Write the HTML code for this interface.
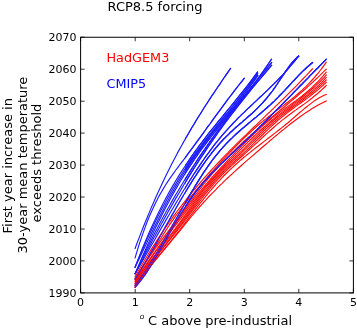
<!DOCTYPE html>
<html><head><meta charset="utf-8"><style>
html,body{margin:0;padding:0;background:#fff;}
svg{display:block;}
text{font-family:"DejaVu Sans","Liberation Sans",sans-serif;}
</style></head><body>
<svg width="357" height="329" viewBox="0 0 357 329">
<rect width="357" height="329" fill="#fff"/>
<defs><clipPath id="cb"><rect x="185" y="0" width="400" height="400"/></clipPath></defs>
<g><polyline points="135.1,248.4 137.1,243.0 139.2,237.6 141.2,232.4 143.2,227.2 145.2,222.2 147.3,217.2 149.3,212.4 151.3,207.6 153.4,202.9 155.4,198.3 157.4,193.8 159.5,189.3 161.5,185.0 163.5,180.7 165.5,176.5 167.6,172.3 169.6,168.3 171.6,164.3 173.7,160.3 175.7,156.4 177.7,152.6 179.8,148.9 181.8,145.2 183.8,141.6 185.8,138.0 187.9,134.5 189.9,131.0 191.9,127.5 194.0,124.2 196.0,120.8 198.0,117.5 200.1,114.2 202.1,111.0 204.1,107.8 206.1,104.7 208.2,101.5 210.2,98.4 212.2,95.3 214.3,92.3 216.3,89.3 218.3,86.3 220.4,83.3 222.4,80.3 224.4,77.3 226.4,74.4 228.5,71.4 230.5,68.5" fill="none" stroke="#1c1cff" stroke-width="1.15" stroke-linejoin="round" stroke-linecap="square"/>
<polyline points="135.1,257.9 137.1,251.1 139.1,244.6 141.2,238.4 143.2,232.6 145.2,227.1 147.2,221.8 149.2,216.8 151.3,212.1 153.3,207.7 155.3,203.4 157.3,199.4 159.3,195.6 161.4,192.0 163.4,188.6 165.4,185.3 167.4,182.1 169.4,179.1 171.5,176.2 173.5,173.3 175.5,170.5 177.5,167.8 179.5,165.1 181.6,162.4 183.6,159.8 185.6,157.1 187.6,154.4 189.6,151.7 191.7,148.9 193.7,146.2 195.7,143.4 197.7,140.7 199.8,137.9 201.8,135.1 203.8,132.3 205.8,129.5 207.8,126.7 209.9,124.0 211.9,121.2 213.9,118.4 215.9,115.6 217.9,112.9 220.0,110.1 222.0,107.4 224.0,104.6 226.0,101.9 228.0,99.2 230.1,96.5 232.1,93.9 234.1,91.2 236.1,88.6 238.1,86.0 240.2,83.4 242.2,80.9 244.2,78.4" fill="none" stroke="#1c1cff" stroke-width="1.15" stroke-linejoin="round" stroke-linecap="square"/>
<polyline points="135.1,267.3 137.1,262.0 139.1,256.8 141.1,251.7 143.1,246.8 145.1,241.9 147.1,237.2 149.1,232.6 151.2,228.1 153.2,223.7 155.2,219.4 157.2,215.2 159.2,211.2 161.2,207.2 163.2,203.3 165.2,199.5 167.2,195.8 169.2,192.1 171.2,188.6 173.2,185.1 175.2,181.7 177.2,178.4 179.2,175.1 181.3,171.9 183.3,168.8 185.3,165.7 187.3,162.7 189.3,159.8 191.3,156.9 193.3,154.0 195.3,151.2 197.3,148.5 199.3,145.7 201.3,143.1 203.3,140.4 205.3,137.8 207.3,135.2 209.3,132.7 211.3,130.1 213.4,127.6 215.4,125.2 217.4,122.7 219.4,120.2 221.4,117.8 223.4,115.3 225.4,112.9 227.4,110.4 229.4,108.0 231.4,105.6 233.4,103.1 235.4,100.7 237.4,98.2 239.4,95.7 241.4,93.2 243.5,90.7 245.5,88.1 247.5,85.5 249.5,82.9 251.5,80.3 253.5,77.6 255.5,74.9 257.5,72.1" fill="none" stroke="#1c1cff" stroke-width="1.15" stroke-linejoin="round" stroke-linecap="square"/>
<polyline points="135.1,267.3 137.1,262.4 139.1,257.6 141.1,252.8 143.1,248.2 145.1,243.6 147.1,239.1 149.2,234.8 151.2,230.4 153.2,226.2 155.2,222.1 157.2,218.0 159.2,214.0 161.2,210.1 163.2,206.2 165.2,202.4 167.2,198.7 169.2,195.1 171.2,191.5 173.3,188.0 175.3,184.6 177.3,181.2 179.3,177.9 181.3,174.7 183.3,171.5 185.3,168.4 187.3,165.4 189.3,162.4 191.3,159.4 193.3,156.5 195.3,153.7 197.4,150.9 199.4,148.2 201.4,145.5 203.4,142.8 205.4,140.2 207.4,137.6 209.4,135.1 211.4,132.5 213.4,130.0 215.4,127.5 217.4,125.0 219.4,122.6 221.5,120.1 223.5,117.7 225.5,115.2 227.5,112.8 229.5,110.3 231.5,107.9 233.5,105.4 235.5,102.9 237.5,100.4 239.5,97.9 241.5,95.3 243.5,92.7 245.6,90.1 247.6,87.5 249.6,84.8 251.6,82.1 253.6,79.3 255.6,76.5 257.6,73.6" fill="none" stroke="#1c1cff" stroke-width="1.15" stroke-linejoin="round" stroke-linecap="square"/>
<polyline points="135.1,267.3 137.1,263.1 139.1,258.9 141.1,254.7 143.1,250.5 145.2,246.3 147.2,242.1 149.2,237.9 151.2,233.7 153.2,229.6 155.2,225.5 157.2,221.4 159.2,217.4 161.2,213.4 163.3,209.4 165.3,205.6 167.3,201.7 169.3,198.0 171.3,194.3 173.3,190.7 175.3,187.2 177.3,183.7 179.4,180.3 181.4,177.0 183.4,173.7 185.4,170.5 187.4,167.4 189.4,164.3 191.4,161.3 193.4,158.3 195.4,155.4 197.5,152.6 199.5,149.8 201.5,147.1 203.5,144.5 205.5,141.8 207.5,139.2 209.5,136.7 211.5,134.2 213.5,131.7 215.6,129.2 217.6,126.7 219.6,124.3 221.6,121.9 223.6,119.4 225.6,117.0 227.6,114.6 229.6,112.2 231.7,109.7 233.7,107.3 235.7,104.8 237.7,102.3 239.7,99.8 241.7,97.3 243.7,94.7 245.7,92.1 247.7,89.5 249.8,86.7 251.8,84.0 253.8,81.2 255.8,78.3 257.8,75.4" fill="none" stroke="#1c1cff" stroke-width="1.15" stroke-linejoin="round" stroke-linecap="square"/>
<polyline points="135.1,273.8 137.1,269.1 139.1,264.4 141.1,259.7 143.1,255.1 145.1,250.6 147.1,246.1 149.1,241.7 151.1,237.3 153.1,233.0 155.1,228.8 157.1,224.6 159.2,220.5 161.2,216.4 163.2,212.4 165.2,208.5 167.2,204.7 169.2,200.9 171.2,197.2 173.2,193.6 175.2,190.1 177.2,186.6 179.2,183.2 181.2,179.8 183.2,176.6 185.2,173.4 187.2,170.2 189.2,167.1 191.2,164.1 193.2,161.1 195.2,158.2 197.2,155.3 199.2,152.5 201.2,149.7 203.2,147.0 205.3,144.3 207.3,141.7 209.3,139.1 211.3,136.5 213.3,134.0 215.3,131.4 217.3,128.9 219.3,126.5 221.3,124.0 223.3,121.6 225.3,119.1 227.3,116.7 229.3,114.3 231.3,111.9 233.3,109.4 235.3,107.0 237.3,104.6 239.3,102.2 241.3,99.7 243.3,97.2 245.3,94.8 247.3,92.2 249.4,89.7 251.4,87.1 253.4,84.6 255.4,81.9 257.4,79.3 259.4,76.6 261.4,73.8 263.4,71.0 265.4,68.2 267.4,65.3 269.4,62.3 271.4,59.3" fill="none" stroke="#1c1cff" stroke-width="1.15" stroke-linejoin="round" stroke-linecap="square"/>
<polyline points="135.1,273.8 137.1,269.4 139.1,265.1 141.1,260.8 143.1,256.6 145.1,252.4 147.1,248.3 149.2,244.2 151.2,240.2 153.2,236.2 155.2,232.3 157.2,228.4 159.2,224.6 161.2,220.8 163.2,217.1 165.2,213.4 167.2,209.8 169.2,206.2 171.2,202.6 173.2,199.1 175.2,195.6 177.3,192.2 179.3,188.8 181.3,185.5 183.3,182.2 185.3,178.9 187.3,175.7 189.3,172.5 191.3,169.4 193.3,166.2 195.3,163.2 197.3,160.1 199.3,157.1 201.3,154.1 203.4,151.2 205.4,148.3 207.4,145.4 209.4,142.6 211.4,139.7 213.4,136.9 215.4,134.2 217.4,131.4 219.4,128.7 221.4,126.0 223.4,123.3 225.4,120.7 227.4,118.0 229.4,115.4 231.5,112.8 233.5,110.2 235.5,107.6 237.5,105.1 239.5,102.5 241.5,100.0 243.5,97.5 245.5,95.0 247.5,92.5 249.5,90.0 251.5,87.5 253.5,85.0 255.5,82.5 257.5,80.0 259.6,77.5 261.6,75.0 263.6,72.6 265.6,70.1 267.6,67.6 269.6,65.1 271.6,62.6" fill="none" stroke="#1c1cff" stroke-width="1.15" stroke-linejoin="round" stroke-linecap="square"/>
<polyline points="135.1,273.8 137.1,269.9 139.1,266.0 141.1,262.1 143.1,258.2 145.1,254.3 147.1,250.5 149.2,246.7 151.2,242.9 153.2,239.1 155.2,235.4 157.2,231.7 159.2,228.0 161.2,224.3 163.2,220.7 165.2,217.1 167.2,213.5 169.2,209.9 171.2,206.4 173.2,202.9 175.2,199.4 177.3,195.9 179.3,192.5 181.3,189.1 183.3,185.8 185.3,182.4 187.3,179.1 189.3,175.9 191.3,172.6 193.3,169.4 195.3,166.2 197.3,163.1 199.3,160.0 201.3,156.9 203.4,153.9 205.4,150.9 207.4,147.9 209.4,145.0 211.4,142.1 213.4,139.2 215.4,136.3 217.4,133.5 219.4,130.7 221.4,127.9 223.4,125.2 225.4,122.5 227.4,119.8 229.4,117.1 231.5,114.5 233.5,111.9 235.5,109.3 237.5,106.7 239.5,104.1 241.5,101.6 243.5,99.1 245.5,96.6 247.5,94.1 249.5,91.6 251.5,89.2 253.5,86.7 255.5,84.3 257.5,81.9 259.6,79.5 261.6,77.1 263.6,74.8 265.6,72.4 267.6,70.1 269.6,67.7 271.6,65.4" fill="none" stroke="#1c1cff" stroke-width="1.15" stroke-linejoin="round" stroke-linecap="square"/>
<polyline points="135.1,273.8 137.1,270.3 139.1,266.8 141.2,263.3 143.2,259.8 145.2,256.3 147.2,252.8 149.2,249.3 151.2,245.7 153.3,242.2 155.3,238.7 157.3,235.1 159.3,231.6 161.3,228.1 163.4,224.6 165.4,221.1 167.4,217.6 169.4,214.2 171.4,210.7 173.5,207.3 175.5,203.9 177.5,200.5 179.5,197.2 181.5,193.8 183.5,190.5 185.6,187.3 187.6,184.0 189.6,180.8 191.6,177.7 193.6,174.5 195.7,171.4 197.7,168.4 199.7,165.4 201.7,162.4 203.7,159.5 205.7,156.6 207.8,153.8 209.8,151.1 211.8,148.4 213.8,145.7 215.8,143.1 217.9,140.6 219.9,138.1 221.9,135.7 223.9,133.4 225.9,131.1 228.0,128.8 230.0,126.6 232.0,124.5 234.0,122.3 236.0,120.3 238.0,118.2 240.1,116.2 242.1,114.2 244.1,112.3 246.1,110.3 248.1,108.4 250.2,106.5 252.2,104.6 254.2,102.7 256.2,100.8 258.2,98.9 260.2,97.0 262.3,95.1 264.3,93.2 266.3,91.3 268.3,89.4 270.3,87.4 272.4,85.4 274.4,83.4 276.4,81.4 278.4,79.3 280.4,77.2 282.5,75.1 284.5,72.9 286.5,70.7 288.5,68.4 290.5,66.0 292.5,63.6 294.6,61.2 296.6,58.7 298.6,56.1" fill="none" stroke="#1c1cff" stroke-width="1.15" stroke-linejoin="round" stroke-linecap="square"/>
<polyline points="135.1,279.1 137.1,275.9 139.1,272.6 141.2,269.3 143.2,265.9 145.2,262.5 147.2,259.1 149.2,255.6 151.2,252.1 153.3,248.5 155.3,244.9 157.3,241.4 159.3,237.8 161.3,234.1 163.4,230.5 165.4,226.9 167.4,223.3 169.4,219.7 171.4,216.1 173.5,212.6 175.5,209.0 177.5,205.5 179.5,202.0 181.5,198.6 183.5,195.2 185.6,191.8 187.6,188.5 189.6,185.2 191.6,182.0 193.6,178.8 195.7,175.7 197.7,172.6 199.7,169.6 201.7,166.7 203.7,163.8 205.7,161.0 207.8,158.2 209.8,155.5 211.8,152.9 213.8,150.4 215.8,147.9 217.9,145.5 219.9,143.2 221.9,141.0 223.9,138.8 225.9,136.8 228.0,134.8 230.0,132.8 232.0,131.0 234.0,129.1 236.0,127.3 238.0,125.6 240.1,123.8 242.1,122.1 244.1,120.3 246.1,118.6 248.1,116.8 250.2,115.0 252.2,113.2 254.2,111.3 256.2,109.4 258.2,107.4 260.2,105.4 262.3,103.2 264.3,101.0 266.3,98.7 268.3,96.2 270.3,93.7 272.4,91.0 274.4,88.2 276.4,85.2 278.4,82.2 280.4,79.2 282.5,76.1 284.5,73.1 286.5,70.2 288.5,67.4 290.5,64.7 292.5,62.2 294.6,59.9 296.6,57.8 298.6,56.1" fill="none" stroke="#1c1cff" stroke-width="1.15" stroke-linejoin="round" stroke-linecap="square"/>
<polyline points="135.1,285.3 137.1,282.7 139.1,279.9 141.1,277.1 143.2,274.2 145.2,271.2 147.2,268.2 149.2,265.0 151.2,261.8 153.2,258.6 155.3,255.3 157.3,251.9 159.3,248.5 161.3,245.1 163.3,241.6 165.3,238.1 167.4,234.5 169.4,231.0 171.4,227.4 173.4,223.9 175.4,220.3 177.4,216.7 179.4,213.1 181.5,209.6 183.5,206.0 185.5,202.5 187.5,199.0 189.5,195.6 191.5,192.1 193.6,188.7 195.6,185.4 197.6,182.1 199.6,178.9 201.6,175.7 203.6,172.6 205.7,169.6 207.7,166.7 209.7,163.8 211.7,161.0 213.7,158.4 215.7,155.8 217.8,153.3 219.8,150.9 221.8,148.6 223.8,146.3 225.8,144.2 227.8,142.1 229.8,140.0 231.9,138.1 233.9,136.1 235.9,134.3 237.9,132.5 239.9,130.7 241.9,128.9 244.0,127.2 246.0,125.5 248.0,123.8 250.0,122.1 252.0,120.4 254.0,118.8 256.1,117.1 258.1,115.4 260.1,113.7 262.1,112.0 264.1,110.3 266.1,108.5 268.1,106.7 270.2,104.9 272.2,103.0 274.2,101.1 276.2,99.1 278.2,97.1 280.2,95.0 282.3,92.9 284.3,90.8 286.3,88.6 288.3,86.5 290.3,84.3 292.3,82.1 294.4,80.0 296.4,77.8 298.4,75.7 300.4,73.7 302.4,71.7 304.4,69.7 306.5,67.8 308.5,66.0 310.5,64.3 312.5,62.6" fill="none" stroke="#1c1cff" stroke-width="1.15" stroke-linejoin="round" stroke-linecap="square"/>
<polyline points="135.1,287.2 137.1,285.0 139.1,282.7 141.1,280.1 143.1,277.4 145.2,274.6 147.2,271.6 149.2,268.5 151.2,265.3 153.2,262.0 155.2,258.6 157.2,255.2 159.2,251.7 161.3,248.1 163.3,244.6 165.3,241.0 167.3,237.4 169.3,233.8 171.3,230.2 173.3,226.7 175.3,223.2 177.3,219.8 179.4,216.4 181.4,213.1 183.4,209.8 185.4,206.7 187.4,203.6 189.4,200.7 191.4,197.8 193.4,195.0 195.4,192.3 197.5,189.7 199.5,187.2 201.5,184.8 203.5,182.4 205.5,180.1 207.5,177.8 209.5,175.6 211.5,173.5 213.6,171.4 215.6,169.3 217.6,167.3 219.6,165.4 221.6,163.4 223.6,161.5 225.6,159.6 227.6,157.7 229.6,155.8 231.7,153.9 233.7,152.0 235.7,150.1 237.7,148.2 239.7,146.3 241.7,144.4 243.7,142.5 245.7,140.6 247.7,138.6 249.8,136.7 251.8,134.7 253.8,132.8 255.8,130.8 257.8,128.8 259.8,126.8 261.8,124.8 263.8,122.8 265.9,120.8 267.9,118.8 269.9,116.8 271.9,114.7 273.9,112.7 275.9,110.7 277.9,108.6 279.9,106.6 281.9,104.6 284.0,102.5 286.0,100.4 288.0,98.4 290.0,96.3 292.0,94.3 294.0,92.2 296.0,90.2 298.0,88.1 300.0,86.0 302.1,84.0 304.1,81.9 306.1,79.8 308.1,77.8 310.1,75.7 312.1,73.7 314.1,71.6 316.1,69.5 318.2,67.5 320.2,65.4 322.2,63.4 324.2,61.3 326.2,59.3" fill="none" stroke="#1c1cff" stroke-width="1.15" stroke-linejoin="round" stroke-linecap="square"/>
</g>
<g opacity="1.0"><polyline points="135.1,276.9 137.1,273.3 139.1,269.7 141.1,266.2 143.2,262.7 145.2,259.3 147.2,256.0 149.2,252.6 151.2,249.4 153.2,246.2 155.3,243.0 157.3,239.9 159.3,236.8 161.3,233.8 163.3,230.8 165.3,227.8 167.4,224.9 169.4,222.0 171.4,219.2 173.4,216.4 175.4,213.7 177.4,211.0 179.4,208.3 181.5,205.7 183.5,203.1 185.5,200.5 187.5,197.9 189.5,195.4 191.5,193.0 193.6,190.5 195.6,188.1 197.6,185.7 199.6,183.4 201.6,181.0 203.6,178.7 205.7,176.4 207.7,174.2 209.7,172.0 211.7,169.7 213.7,167.6 215.7,165.4 217.8,163.2 219.8,161.1 221.8,159.0 223.8,156.9 225.8,154.8 227.8,152.8 229.8,150.7 231.9,148.7 233.9,146.7 235.9,144.7 237.9,142.7 239.9,140.7 241.9,138.7 244.0,136.7 246.0,134.8 248.0,132.8 250.0,130.9 252.0,128.9 254.0,127.0 256.1,125.1 258.1,123.1 260.1,121.2 262.1,119.3 264.1,117.3 266.1,115.4 268.1,113.5 270.2,111.6 272.2,109.6 274.2,107.7 276.2,105.7 278.2,103.8 280.2,101.8 282.3,99.8 284.3,97.9 286.3,95.9 288.3,93.9 290.3,91.9 292.3,89.9 294.4,87.8 296.4,85.8 298.4,83.7 300.4,81.6 302.4,79.5 304.4,77.4 306.5,75.3 308.5,73.2 310.5,71.0 312.5,68.8" fill="none" stroke="#ff0a0a" stroke-width="1.15" stroke-linejoin="round" stroke-linecap="square"/>
<polyline points="135.1,279.1 137.1,276.0 139.1,272.9 141.1,269.7 143.1,266.5 145.2,263.3 147.2,260.1 149.2,256.9 151.2,253.6 153.2,250.4 155.2,247.1 157.2,243.9 159.2,240.7 161.3,237.6 163.3,234.4 165.3,231.4 167.3,228.3 169.3,225.3 171.3,222.4 173.3,219.6 175.3,216.7 177.3,214.0 179.4,211.3 181.4,208.6 183.4,206.0 185.4,203.4 187.4,200.9 189.4,198.4 191.4,195.9 193.4,193.5 195.4,191.1 197.5,188.7 199.5,186.3 201.5,184.0 203.5,181.6 205.5,179.3 207.5,177.0 209.5,174.7 211.5,172.4 213.6,170.2 215.6,167.9 217.6,165.7 219.6,163.4 221.6,161.2 223.6,159.1 225.6,156.9 227.6,154.7 229.6,152.6 231.7,150.5 233.7,148.4 235.7,146.4 237.7,144.3 239.7,142.3 241.7,140.4 243.7,138.4 245.7,136.5 247.7,134.6 249.8,132.7 251.8,130.9 253.8,129.0 255.8,127.3 257.8,125.5 259.8,123.8 261.8,122.1 263.8,120.5 265.9,118.9 267.9,117.3 269.9,115.7 271.9,114.2 273.9,112.6 275.9,111.1 277.9,109.6 279.9,108.1 281.9,106.6 284.0,105.1 286.0,103.5 288.0,102.0 290.0,100.4 292.0,98.8 294.0,97.1 296.0,95.4 298.0,93.7 300.0,91.9 302.1,90.1 304.1,88.2 306.1,86.3 308.1,84.3 310.1,82.2 312.1,80.0 314.1,77.8 316.1,75.5 318.2,73.1 320.2,70.5 322.2,67.9 324.2,65.2 326.2,62.4" fill="none" stroke="#ff0a0a" stroke-width="1.15" stroke-linejoin="round" stroke-linecap="square"/>
<polyline points="135.1,279.1 137.1,275.7 139.1,272.3 141.1,269.1 143.1,266.0 145.2,262.9 147.2,259.9 149.2,257.0 151.2,254.1 153.2,251.3 155.2,248.5 157.2,245.8 159.2,243.1 161.3,240.4 163.3,237.8 165.3,235.2 167.3,232.5 169.3,229.9 171.3,227.3 173.3,224.6 175.3,221.9 177.3,219.3 179.4,216.6 181.4,213.8 183.4,211.1 185.4,208.4 187.4,205.7 189.4,203.0 191.4,200.3 193.4,197.6 195.4,194.9 197.5,192.3 199.5,189.7 201.5,187.1 203.5,184.5 205.5,182.0 207.5,179.6 209.5,177.1 211.5,174.7 213.6,172.4 215.6,170.1 217.6,167.8 219.6,165.6 221.6,163.4 223.6,161.3 225.6,159.2 227.6,157.1 229.6,155.1 231.7,153.0 233.7,151.1 235.7,149.1 237.7,147.2 239.7,145.3 241.7,143.4 243.7,141.5 245.7,139.7 247.7,137.9 249.8,136.1 251.8,134.3 253.8,132.5 255.8,130.8 257.8,129.0 259.8,127.3 261.8,125.6 263.8,123.9 265.9,122.2 267.9,120.5 269.9,118.8 271.9,117.2 273.9,115.5 275.9,113.8 277.9,112.2 279.9,110.5 281.9,108.8 284.0,107.2 286.0,105.5 288.0,103.8 290.0,102.1 292.0,100.4 294.0,98.7 296.0,97.0 298.0,95.3 300.0,93.5 302.1,91.8 304.1,90.0 306.1,88.2 308.1,86.4 310.1,84.6 312.1,82.8 314.1,80.9 316.1,79.0 318.2,77.1 320.2,75.2 322.2,73.2 324.2,71.2 326.2,69.2" fill="none" stroke="#ff0a0a" stroke-width="1.15" stroke-linejoin="round" stroke-linecap="square"/>
<polyline points="135.1,281.3 137.1,278.3 139.1,275.4 141.1,272.5 143.1,269.5 145.2,266.6 147.2,263.6 149.2,260.7 151.2,257.8 153.2,254.9 155.2,252.0 157.2,249.1 159.2,246.2 161.3,243.3 163.3,240.5 165.3,237.6 167.3,234.8 169.3,232.0 171.3,229.2 173.3,226.4 175.3,223.7 177.3,220.9 179.4,218.2 181.4,215.5 183.4,212.8 185.4,210.1 187.4,207.5 189.4,204.9 191.4,202.3 193.4,199.7 195.4,197.2 197.5,194.7 199.5,192.2 201.5,189.8 203.5,187.3 205.5,184.9 207.5,182.6 209.5,180.3 211.5,178.0 213.6,175.7 215.6,173.5 217.6,171.3 219.6,169.1 221.6,166.9 223.6,164.8 225.6,162.6 227.6,160.5 229.6,158.4 231.7,156.4 233.7,154.3 235.7,152.2 237.7,150.2 239.7,148.1 241.7,146.1 243.7,144.0 245.7,142.0 247.7,140.0 249.8,138.0 251.8,136.0 253.8,134.1 255.8,132.2 257.8,130.3 259.8,128.4 261.8,126.6 263.8,124.8 265.9,123.1 267.9,121.4 269.9,119.7 271.9,118.1 273.9,116.6 275.9,115.1 277.9,113.6 279.9,112.1 281.9,110.6 284.0,109.2 286.0,107.8 288.0,106.4 290.0,104.9 292.0,103.5 294.0,102.0 296.0,100.6 298.0,99.1 300.0,97.5 302.1,96.0 304.1,94.3 306.1,92.7 308.1,91.0 310.1,89.2 312.1,87.4 314.1,85.4 316.1,83.5 318.2,81.4 320.2,79.2 322.2,77.0 324.2,74.6 326.2,72.2" fill="none" stroke="#ff0a0a" stroke-width="1.15" stroke-linejoin="round" stroke-linecap="square"/>
<polyline points="135.1,281.3 137.1,278.1 139.1,274.9 141.1,271.8 143.1,268.8 145.2,265.8 147.2,262.9 149.2,260.0 151.2,257.2 153.2,254.4 155.2,251.7 157.2,249.0 159.2,246.3 161.3,243.7 163.3,241.0 165.3,238.4 167.3,235.8 169.3,233.2 171.3,230.6 173.3,228.0 175.3,225.4 177.3,222.8 179.4,220.2 181.4,217.6 183.4,215.0 185.4,212.3 187.4,209.7 189.4,207.1 191.4,204.5 193.4,201.9 195.4,199.3 197.5,196.7 199.5,194.2 201.5,191.7 203.5,189.2 205.5,186.7 207.5,184.3 209.5,182.0 211.5,179.6 213.6,177.4 215.6,175.1 217.6,172.9 219.6,170.7 221.6,168.6 223.6,166.5 225.6,164.4 227.6,162.3 229.6,160.3 231.7,158.3 233.7,156.3 235.7,154.3 237.7,152.3 239.7,150.3 241.7,148.3 243.7,146.3 245.7,144.3 247.7,142.4 249.8,140.4 251.8,138.5 253.8,136.5 255.8,134.6 257.8,132.7 259.8,130.8 261.8,129.0 263.8,127.2 265.9,125.4 267.9,123.6 269.9,121.9 271.9,120.2 273.9,118.6 275.9,117.0 277.9,115.4 279.9,113.9 281.9,112.4 284.0,110.9 286.0,109.4 288.0,107.9 290.0,106.4 292.0,104.9 294.0,103.4 296.0,101.9 298.0,100.4 300.0,98.9 302.1,97.3 304.1,95.7 306.1,94.1 308.1,92.5 310.1,90.8 312.1,89.0 314.1,87.2 316.1,85.4 318.2,83.4 320.2,81.5 322.2,79.4 324.2,77.3 326.2,75.1" fill="none" stroke="#ff0a0a" stroke-width="1.15" stroke-linejoin="round" stroke-linecap="square"/>
<polyline points="135.1,283.4 137.1,280.4 139.1,277.4 141.1,274.5 143.1,271.7 145.2,268.9 147.2,266.1 149.2,263.3 151.2,260.6 153.2,257.9 155.2,255.2 157.2,252.5 159.2,249.8 161.3,247.2 163.3,244.5 165.3,241.9 167.3,239.2 169.3,236.6 171.3,233.9 173.3,231.2 175.3,228.5 177.3,225.8 179.4,223.1 181.4,220.4 183.4,217.6 185.4,214.8 187.4,212.1 189.4,209.3 191.4,206.5 193.4,203.8 195.4,201.1 197.5,198.4 199.5,195.7 201.5,193.1 203.5,190.5 205.5,188.0 207.5,185.5 209.5,183.1 211.5,180.8 213.6,178.5 215.6,176.3 217.6,174.2 219.6,172.1 221.6,170.0 223.6,168.0 225.6,166.0 227.6,164.1 229.6,162.2 231.7,160.3 233.7,158.4 235.7,156.5 237.7,154.6 239.7,152.7 241.7,150.8 243.7,148.9 245.7,146.9 247.7,144.9 249.8,142.9 251.8,140.9 253.8,138.9 255.8,136.9 257.8,134.9 259.8,132.9 261.8,131.0 263.8,129.0 265.9,127.1 267.9,125.3 269.9,123.4 271.9,121.7 273.9,120.0 275.9,118.3 277.9,116.7 279.9,115.1 281.9,113.6 284.0,112.1 286.0,110.6 288.0,109.2 290.0,107.7 292.0,106.3 294.0,104.9 296.0,103.4 298.0,102.0 300.0,100.5 302.1,99.0 304.1,97.5 306.1,96.0 308.1,94.4 310.1,92.8 312.1,91.1 314.1,89.4 316.1,87.6 318.2,85.7 320.2,83.8 322.2,81.8 324.2,79.7 326.2,77.5" fill="none" stroke="#ff0a0a" stroke-width="1.15" stroke-linejoin="round" stroke-linecap="square"/>
<polyline points="135.1,283.4 137.1,280.2 139.1,277.1 141.1,274.1 143.1,271.2 145.2,268.4 147.2,265.6 149.2,262.9 151.2,260.2 153.2,257.6 155.2,255.1 157.2,252.6 159.2,250.1 161.3,247.6 163.3,245.1 165.3,242.6 167.3,240.1 169.3,237.5 171.3,235.0 173.3,232.4 175.3,229.8 177.3,227.2 179.4,224.6 181.4,221.9 183.4,219.2 185.4,216.5 187.4,213.8 189.4,211.1 191.4,208.4 193.4,205.7 195.4,203.0 197.5,200.3 199.5,197.7 201.5,195.1 203.5,192.5 205.5,190.0 207.5,187.5 209.5,185.1 211.5,182.7 213.6,180.4 215.6,178.2 217.6,176.0 219.6,173.9 221.6,171.9 223.6,169.8 225.6,167.8 227.6,165.9 229.6,163.9 231.7,162.0 233.7,160.1 235.7,158.3 237.7,156.4 239.7,154.5 241.7,152.6 243.7,150.7 245.7,148.8 247.7,146.9 249.8,144.9 251.8,142.9 253.8,141.0 255.8,139.0 257.8,137.0 259.8,135.0 261.8,133.1 263.8,131.1 265.9,129.2 267.9,127.3 269.9,125.5 271.9,123.7 273.9,121.9 275.9,120.2 277.9,118.5 279.9,116.9 281.9,115.3 284.0,113.7 286.0,112.2 288.0,110.7 290.0,109.2 292.0,107.8 294.0,106.3 296.0,104.9 298.0,103.4 300.0,101.9 302.1,100.5 304.1,99.0 306.1,97.4 308.1,95.9 310.1,94.3 312.1,92.7 314.1,91.1 316.1,89.4 318.2,87.6 320.2,85.8 322.2,83.9 324.2,82.0 326.2,80.0" fill="none" stroke="#ff0a0a" stroke-width="1.15" stroke-linejoin="round" stroke-linecap="square"/>
<polyline points="135.1,285.3 137.1,282.4 139.1,279.5 141.1,276.7 143.1,273.9 145.2,271.2 147.2,268.4 149.2,265.7 151.2,263.1 153.2,260.4 155.2,257.8 157.2,255.2 159.2,252.6 161.3,250.0 163.3,247.4 165.3,244.8 167.3,242.2 169.3,239.6 171.3,237.0 173.3,234.4 175.3,231.8 177.3,229.2 179.4,226.5 181.4,223.9 183.4,221.2 185.4,218.4 187.4,215.7 189.4,213.0 191.4,210.3 193.4,207.6 195.4,204.9 197.5,202.2 199.5,199.5 201.5,196.9 203.5,194.3 205.5,191.8 207.5,189.3 209.5,186.8 211.5,184.5 213.6,182.1 215.6,179.9 217.6,177.7 219.6,175.6 221.6,173.5 223.6,171.5 225.6,169.6 227.6,167.7 229.6,165.8 231.7,163.9 233.7,162.1 235.7,160.2 237.7,158.4 239.7,156.6 241.7,154.8 243.7,152.9 245.7,151.1 247.7,149.2 249.8,147.3 251.8,145.3 253.8,143.4 255.8,141.4 257.8,139.4 259.8,137.5 261.8,135.5 263.8,133.5 265.9,131.5 267.9,129.6 269.9,127.7 271.9,125.8 273.9,124.0 275.9,122.2 277.9,120.4 279.9,118.7 281.9,117.1 284.0,115.5 286.0,113.9 288.0,112.4 290.0,110.8 292.0,109.3 294.0,107.9 296.0,106.4 298.0,104.9 300.0,103.5 302.1,102.0 304.1,100.6 306.1,99.1 308.1,97.6 310.1,96.1 312.1,94.5 314.1,92.9 316.1,91.3 318.2,89.6 320.2,87.9 322.2,86.1 324.2,84.3 326.2,82.4" fill="none" stroke="#ff0a0a" stroke-width="1.15" stroke-linejoin="round" stroke-linecap="square"/>
<polyline points="135.1,285.3 137.1,282.3 139.1,279.4 141.1,276.6 143.1,273.8 145.2,271.0 147.2,268.3 149.2,265.6 151.2,263.0 153.2,260.4 155.2,257.8 157.2,255.3 159.2,252.8 161.3,250.3 163.3,247.8 165.3,245.3 167.3,242.8 169.3,240.3 171.3,237.8 173.3,235.3 175.3,232.8 177.3,230.3 179.4,227.7 181.4,225.2 183.4,222.6 185.4,220.0 187.4,217.4 189.4,214.7 191.4,212.1 193.4,209.4 195.4,206.8 197.5,204.2 199.5,201.6 201.5,199.0 203.5,196.4 205.5,193.9 207.5,191.4 209.5,189.0 211.5,186.6 213.6,184.2 215.6,181.9 217.6,179.7 219.6,177.5 221.6,175.4 223.6,173.4 225.6,171.4 227.6,169.4 229.6,167.5 231.7,165.6 233.7,163.7 235.7,161.9 237.7,160.1 239.7,158.3 241.7,156.5 243.7,154.7 245.7,152.9 247.7,151.1 249.8,149.3 251.8,147.4 253.8,145.6 255.8,143.7 257.8,141.9 259.8,140.0 261.8,138.1 263.8,136.3 265.9,134.4 267.9,132.6 269.9,130.8 271.9,129.0 273.9,127.2 275.9,125.4 277.9,123.7 279.9,122.1 281.9,120.4 284.0,118.9 286.0,117.3 288.0,115.8 290.0,114.3 292.0,112.8 294.0,111.3 296.0,109.9 298.0,108.4 300.0,107.0 302.1,105.5 304.1,104.1 306.1,102.6 308.1,101.1 310.1,99.5 312.1,98.0 314.1,96.3 316.1,94.7 318.2,93.0 320.2,91.2 322.2,89.4 324.2,87.5 326.2,85.5" fill="none" stroke="#ff0a0a" stroke-width="1.15" stroke-linejoin="round" stroke-linecap="square"/>
<polyline points="135.1,287.2 137.1,284.2 139.1,281.2 141.1,278.4 143.1,275.6 145.2,272.9 147.2,270.2 149.2,267.6 151.2,265.1 153.2,262.6 155.2,260.1 157.2,257.6 159.2,255.2 161.3,252.7 163.3,250.3 165.3,247.9 167.3,245.4 169.3,243.0 171.3,240.5 173.3,238.0 175.3,235.4 177.3,232.9 179.4,230.3 181.4,227.6 183.4,225.0 185.4,222.4 187.4,219.8 189.4,217.1 191.4,214.5 193.4,211.9 195.4,209.3 197.5,206.7 199.5,204.1 201.5,201.6 203.5,199.1 205.5,196.6 207.5,194.1 209.5,191.7 211.5,189.3 213.6,187.0 215.6,184.7 217.6,182.4 219.6,180.3 221.6,178.1 223.6,176.0 225.6,174.0 227.6,172.0 229.6,170.1 231.7,168.2 233.7,166.3 235.7,164.5 237.7,162.7 239.7,160.9 241.7,159.2 243.7,157.5 245.7,155.9 247.7,154.2 249.8,152.6 251.8,151.0 253.8,149.4 255.8,147.8 257.8,146.3 259.8,144.7 261.8,143.2 263.8,141.6 265.9,140.1 267.9,138.5 269.9,137.0 271.9,135.5 273.9,133.9 275.9,132.4 277.9,130.8 279.9,129.2 281.9,127.6 284.0,126.0 286.0,124.3 288.0,122.7 290.0,121.0 292.0,119.2 294.0,117.5 296.0,115.8 298.0,114.0 300.0,112.3 302.1,110.6 304.1,108.9 306.1,107.2 308.1,105.6 310.1,104.1 312.1,102.6 314.1,101.1 316.1,99.8 318.2,98.5 320.2,97.3 322.2,96.3 324.2,95.3 326.2,94.5" fill="none" stroke="#ff0a0a" stroke-width="1.15" stroke-linejoin="round" stroke-linecap="square"/>
<polyline points="135.1,287.2 137.1,284.3 139.1,281.4 141.1,278.6 143.1,275.9 145.2,273.2 147.2,270.6 149.2,268.0 151.2,265.5 153.2,263.0 155.2,260.5 157.2,258.1 159.2,255.6 161.3,253.2 163.3,250.8 165.3,248.4 167.3,246.0 169.3,243.6 171.3,241.2 173.3,238.7 175.3,236.3 177.3,233.8 179.4,231.3 181.4,228.8 183.4,226.4 185.4,223.9 187.4,221.4 189.4,218.9 191.4,216.5 193.4,214.1 195.4,211.7 197.5,209.3 199.5,207.0 201.5,204.8 203.5,202.5 205.5,200.3 207.5,198.1 209.5,196.0 211.5,193.9 213.6,191.8 215.6,189.8 217.6,187.7 219.6,185.7 221.6,183.8 223.6,181.8 225.6,179.9 227.6,178.0 229.6,176.1 231.7,174.3 233.7,172.4 235.7,170.6 237.7,168.8 239.7,167.0 241.7,165.2 243.7,163.4 245.7,161.6 247.7,159.9 249.8,158.1 251.8,156.4 253.8,154.7 255.8,152.9 257.8,151.2 259.8,149.5 261.8,147.7 263.8,146.0 265.9,144.3 267.9,142.6 269.9,140.8 271.9,139.1 273.9,137.4 275.9,135.7 277.9,134.1 279.9,132.4 281.9,130.7 284.0,129.1 286.0,127.5 288.0,125.9 290.0,124.3 292.0,122.7 294.0,121.2 296.0,119.7 298.0,118.2 300.0,116.7 302.1,115.3 304.1,113.9 306.1,112.5 308.1,111.2 310.1,109.9 312.1,108.6 314.1,107.4 316.1,106.2 318.2,105.0 320.2,103.9 322.2,102.9 324.2,101.9 326.2,100.9" fill="none" stroke="#ff0a0a" stroke-width="1.15" stroke-linejoin="round" stroke-linecap="square"/>
</g>
<g clip-path="url(#cb)"><polyline points="135.1,248.4 137.1,243.0 139.2,237.6 141.2,232.4 143.2,227.2 145.2,222.2 147.3,217.2 149.3,212.4 151.3,207.6 153.4,202.9 155.4,198.3 157.4,193.8 159.5,189.3 161.5,185.0 163.5,180.7 165.5,176.5 167.6,172.3 169.6,168.3 171.6,164.3 173.7,160.3 175.7,156.4 177.7,152.6 179.8,148.9 181.8,145.2 183.8,141.6 185.8,138.0 187.9,134.5 189.9,131.0 191.9,127.5 194.0,124.2 196.0,120.8 198.0,117.5 200.1,114.2 202.1,111.0 204.1,107.8 206.1,104.7 208.2,101.5 210.2,98.4 212.2,95.3 214.3,92.3 216.3,89.3 218.3,86.3 220.4,83.3 222.4,80.3 224.4,77.3 226.4,74.4 228.5,71.4 230.5,68.5" fill="none" stroke="#1c1cff" stroke-width="1.15" stroke-linejoin="round" stroke-linecap="square"/>
<polyline points="135.1,257.9 137.1,251.1 139.1,244.6 141.2,238.4 143.2,232.6 145.2,227.1 147.2,221.8 149.2,216.8 151.3,212.1 153.3,207.7 155.3,203.4 157.3,199.4 159.3,195.6 161.4,192.0 163.4,188.6 165.4,185.3 167.4,182.1 169.4,179.1 171.5,176.2 173.5,173.3 175.5,170.5 177.5,167.8 179.5,165.1 181.6,162.4 183.6,159.8 185.6,157.1 187.6,154.4 189.6,151.7 191.7,148.9 193.7,146.2 195.7,143.4 197.7,140.7 199.8,137.9 201.8,135.1 203.8,132.3 205.8,129.5 207.8,126.7 209.9,124.0 211.9,121.2 213.9,118.4 215.9,115.6 217.9,112.9 220.0,110.1 222.0,107.4 224.0,104.6 226.0,101.9 228.0,99.2 230.1,96.5 232.1,93.9 234.1,91.2 236.1,88.6 238.1,86.0 240.2,83.4 242.2,80.9 244.2,78.4" fill="none" stroke="#1c1cff" stroke-width="1.15" stroke-linejoin="round" stroke-linecap="square"/>
<polyline points="135.1,267.3 137.1,262.0 139.1,256.8 141.1,251.7 143.1,246.8 145.1,241.9 147.1,237.2 149.1,232.6 151.2,228.1 153.2,223.7 155.2,219.4 157.2,215.2 159.2,211.2 161.2,207.2 163.2,203.3 165.2,199.5 167.2,195.8 169.2,192.1 171.2,188.6 173.2,185.1 175.2,181.7 177.2,178.4 179.2,175.1 181.3,171.9 183.3,168.8 185.3,165.7 187.3,162.7 189.3,159.8 191.3,156.9 193.3,154.0 195.3,151.2 197.3,148.5 199.3,145.7 201.3,143.1 203.3,140.4 205.3,137.8 207.3,135.2 209.3,132.7 211.3,130.1 213.4,127.6 215.4,125.2 217.4,122.7 219.4,120.2 221.4,117.8 223.4,115.3 225.4,112.9 227.4,110.4 229.4,108.0 231.4,105.6 233.4,103.1 235.4,100.7 237.4,98.2 239.4,95.7 241.4,93.2 243.5,90.7 245.5,88.1 247.5,85.5 249.5,82.9 251.5,80.3 253.5,77.6 255.5,74.9 257.5,72.1" fill="none" stroke="#1c1cff" stroke-width="1.15" stroke-linejoin="round" stroke-linecap="square"/>
<polyline points="135.1,267.3 137.1,262.4 139.1,257.6 141.1,252.8 143.1,248.2 145.1,243.6 147.1,239.1 149.2,234.8 151.2,230.4 153.2,226.2 155.2,222.1 157.2,218.0 159.2,214.0 161.2,210.1 163.2,206.2 165.2,202.4 167.2,198.7 169.2,195.1 171.2,191.5 173.3,188.0 175.3,184.6 177.3,181.2 179.3,177.9 181.3,174.7 183.3,171.5 185.3,168.4 187.3,165.4 189.3,162.4 191.3,159.4 193.3,156.5 195.3,153.7 197.4,150.9 199.4,148.2 201.4,145.5 203.4,142.8 205.4,140.2 207.4,137.6 209.4,135.1 211.4,132.5 213.4,130.0 215.4,127.5 217.4,125.0 219.4,122.6 221.5,120.1 223.5,117.7 225.5,115.2 227.5,112.8 229.5,110.3 231.5,107.9 233.5,105.4 235.5,102.9 237.5,100.4 239.5,97.9 241.5,95.3 243.5,92.7 245.6,90.1 247.6,87.5 249.6,84.8 251.6,82.1 253.6,79.3 255.6,76.5 257.6,73.6" fill="none" stroke="#1c1cff" stroke-width="1.15" stroke-linejoin="round" stroke-linecap="square"/>
<polyline points="135.1,267.3 137.1,263.1 139.1,258.9 141.1,254.7 143.1,250.5 145.2,246.3 147.2,242.1 149.2,237.9 151.2,233.7 153.2,229.6 155.2,225.5 157.2,221.4 159.2,217.4 161.2,213.4 163.3,209.4 165.3,205.6 167.3,201.7 169.3,198.0 171.3,194.3 173.3,190.7 175.3,187.2 177.3,183.7 179.4,180.3 181.4,177.0 183.4,173.7 185.4,170.5 187.4,167.4 189.4,164.3 191.4,161.3 193.4,158.3 195.4,155.4 197.5,152.6 199.5,149.8 201.5,147.1 203.5,144.5 205.5,141.8 207.5,139.2 209.5,136.7 211.5,134.2 213.5,131.7 215.6,129.2 217.6,126.7 219.6,124.3 221.6,121.9 223.6,119.4 225.6,117.0 227.6,114.6 229.6,112.2 231.7,109.7 233.7,107.3 235.7,104.8 237.7,102.3 239.7,99.8 241.7,97.3 243.7,94.7 245.7,92.1 247.7,89.5 249.8,86.7 251.8,84.0 253.8,81.2 255.8,78.3 257.8,75.4" fill="none" stroke="#1c1cff" stroke-width="1.15" stroke-linejoin="round" stroke-linecap="square"/>
<polyline points="135.1,273.8 137.1,269.1 139.1,264.4 141.1,259.7 143.1,255.1 145.1,250.6 147.1,246.1 149.1,241.7 151.1,237.3 153.1,233.0 155.1,228.8 157.1,224.6 159.2,220.5 161.2,216.4 163.2,212.4 165.2,208.5 167.2,204.7 169.2,200.9 171.2,197.2 173.2,193.6 175.2,190.1 177.2,186.6 179.2,183.2 181.2,179.8 183.2,176.6 185.2,173.4 187.2,170.2 189.2,167.1 191.2,164.1 193.2,161.1 195.2,158.2 197.2,155.3 199.2,152.5 201.2,149.7 203.2,147.0 205.3,144.3 207.3,141.7 209.3,139.1 211.3,136.5 213.3,134.0 215.3,131.4 217.3,128.9 219.3,126.5 221.3,124.0 223.3,121.6 225.3,119.1 227.3,116.7 229.3,114.3 231.3,111.9 233.3,109.4 235.3,107.0 237.3,104.6 239.3,102.2 241.3,99.7 243.3,97.2 245.3,94.8 247.3,92.2 249.4,89.7 251.4,87.1 253.4,84.6 255.4,81.9 257.4,79.3 259.4,76.6 261.4,73.8 263.4,71.0 265.4,68.2 267.4,65.3 269.4,62.3 271.4,59.3" fill="none" stroke="#1c1cff" stroke-width="1.15" stroke-linejoin="round" stroke-linecap="square"/>
<polyline points="135.1,273.8 137.1,269.4 139.1,265.1 141.1,260.8 143.1,256.6 145.1,252.4 147.1,248.3 149.2,244.2 151.2,240.2 153.2,236.2 155.2,232.3 157.2,228.4 159.2,224.6 161.2,220.8 163.2,217.1 165.2,213.4 167.2,209.8 169.2,206.2 171.2,202.6 173.2,199.1 175.2,195.6 177.3,192.2 179.3,188.8 181.3,185.5 183.3,182.2 185.3,178.9 187.3,175.7 189.3,172.5 191.3,169.4 193.3,166.2 195.3,163.2 197.3,160.1 199.3,157.1 201.3,154.1 203.4,151.2 205.4,148.3 207.4,145.4 209.4,142.6 211.4,139.7 213.4,136.9 215.4,134.2 217.4,131.4 219.4,128.7 221.4,126.0 223.4,123.3 225.4,120.7 227.4,118.0 229.4,115.4 231.5,112.8 233.5,110.2 235.5,107.6 237.5,105.1 239.5,102.5 241.5,100.0 243.5,97.5 245.5,95.0 247.5,92.5 249.5,90.0 251.5,87.5 253.5,85.0 255.5,82.5 257.5,80.0 259.6,77.5 261.6,75.0 263.6,72.6 265.6,70.1 267.6,67.6 269.6,65.1 271.6,62.6" fill="none" stroke="#1c1cff" stroke-width="1.15" stroke-linejoin="round" stroke-linecap="square"/>
<polyline points="135.1,273.8 137.1,269.9 139.1,266.0 141.1,262.1 143.1,258.2 145.1,254.3 147.1,250.5 149.2,246.7 151.2,242.9 153.2,239.1 155.2,235.4 157.2,231.7 159.2,228.0 161.2,224.3 163.2,220.7 165.2,217.1 167.2,213.5 169.2,209.9 171.2,206.4 173.2,202.9 175.2,199.4 177.3,195.9 179.3,192.5 181.3,189.1 183.3,185.8 185.3,182.4 187.3,179.1 189.3,175.9 191.3,172.6 193.3,169.4 195.3,166.2 197.3,163.1 199.3,160.0 201.3,156.9 203.4,153.9 205.4,150.9 207.4,147.9 209.4,145.0 211.4,142.1 213.4,139.2 215.4,136.3 217.4,133.5 219.4,130.7 221.4,127.9 223.4,125.2 225.4,122.5 227.4,119.8 229.4,117.1 231.5,114.5 233.5,111.9 235.5,109.3 237.5,106.7 239.5,104.1 241.5,101.6 243.5,99.1 245.5,96.6 247.5,94.1 249.5,91.6 251.5,89.2 253.5,86.7 255.5,84.3 257.5,81.9 259.6,79.5 261.6,77.1 263.6,74.8 265.6,72.4 267.6,70.1 269.6,67.7 271.6,65.4" fill="none" stroke="#1c1cff" stroke-width="1.15" stroke-linejoin="round" stroke-linecap="square"/>
<polyline points="135.1,273.8 137.1,270.3 139.1,266.8 141.2,263.3 143.2,259.8 145.2,256.3 147.2,252.8 149.2,249.3 151.2,245.7 153.3,242.2 155.3,238.7 157.3,235.1 159.3,231.6 161.3,228.1 163.4,224.6 165.4,221.1 167.4,217.6 169.4,214.2 171.4,210.7 173.5,207.3 175.5,203.9 177.5,200.5 179.5,197.2 181.5,193.8 183.5,190.5 185.6,187.3 187.6,184.0 189.6,180.8 191.6,177.7 193.6,174.5 195.7,171.4 197.7,168.4 199.7,165.4 201.7,162.4 203.7,159.5 205.7,156.6 207.8,153.8 209.8,151.1 211.8,148.4 213.8,145.7 215.8,143.1 217.9,140.6 219.9,138.1 221.9,135.7 223.9,133.4 225.9,131.1 228.0,128.8 230.0,126.6 232.0,124.5 234.0,122.3 236.0,120.3 238.0,118.2 240.1,116.2 242.1,114.2 244.1,112.3 246.1,110.3 248.1,108.4 250.2,106.5 252.2,104.6 254.2,102.7 256.2,100.8 258.2,98.9 260.2,97.0 262.3,95.1 264.3,93.2 266.3,91.3 268.3,89.4 270.3,87.4 272.4,85.4 274.4,83.4 276.4,81.4 278.4,79.3 280.4,77.2 282.5,75.1 284.5,72.9 286.5,70.7 288.5,68.4 290.5,66.0 292.5,63.6 294.6,61.2 296.6,58.7 298.6,56.1" fill="none" stroke="#1c1cff" stroke-width="1.15" stroke-linejoin="round" stroke-linecap="square"/>
<polyline points="135.1,279.1 137.1,275.9 139.1,272.6 141.2,269.3 143.2,265.9 145.2,262.5 147.2,259.1 149.2,255.6 151.2,252.1 153.3,248.5 155.3,244.9 157.3,241.4 159.3,237.8 161.3,234.1 163.4,230.5 165.4,226.9 167.4,223.3 169.4,219.7 171.4,216.1 173.5,212.6 175.5,209.0 177.5,205.5 179.5,202.0 181.5,198.6 183.5,195.2 185.6,191.8 187.6,188.5 189.6,185.2 191.6,182.0 193.6,178.8 195.7,175.7 197.7,172.6 199.7,169.6 201.7,166.7 203.7,163.8 205.7,161.0 207.8,158.2 209.8,155.5 211.8,152.9 213.8,150.4 215.8,147.9 217.9,145.5 219.9,143.2 221.9,141.0 223.9,138.8 225.9,136.8 228.0,134.8 230.0,132.8 232.0,131.0 234.0,129.1 236.0,127.3 238.0,125.6 240.1,123.8 242.1,122.1 244.1,120.3 246.1,118.6 248.1,116.8 250.2,115.0 252.2,113.2 254.2,111.3 256.2,109.4 258.2,107.4 260.2,105.4 262.3,103.2 264.3,101.0 266.3,98.7 268.3,96.2 270.3,93.7 272.4,91.0 274.4,88.2 276.4,85.2 278.4,82.2 280.4,79.2 282.5,76.1 284.5,73.1 286.5,70.2 288.5,67.4 290.5,64.7 292.5,62.2 294.6,59.9 296.6,57.8 298.6,56.1" fill="none" stroke="#1c1cff" stroke-width="1.15" stroke-linejoin="round" stroke-linecap="square"/>
<polyline points="135.1,285.3 137.1,282.7 139.1,279.9 141.1,277.1 143.2,274.2 145.2,271.2 147.2,268.2 149.2,265.0 151.2,261.8 153.2,258.6 155.3,255.3 157.3,251.9 159.3,248.5 161.3,245.1 163.3,241.6 165.3,238.1 167.4,234.5 169.4,231.0 171.4,227.4 173.4,223.9 175.4,220.3 177.4,216.7 179.4,213.1 181.5,209.6 183.5,206.0 185.5,202.5 187.5,199.0 189.5,195.6 191.5,192.1 193.6,188.7 195.6,185.4 197.6,182.1 199.6,178.9 201.6,175.7 203.6,172.6 205.7,169.6 207.7,166.7 209.7,163.8 211.7,161.0 213.7,158.4 215.7,155.8 217.8,153.3 219.8,150.9 221.8,148.6 223.8,146.3 225.8,144.2 227.8,142.1 229.8,140.0 231.9,138.1 233.9,136.1 235.9,134.3 237.9,132.5 239.9,130.7 241.9,128.9 244.0,127.2 246.0,125.5 248.0,123.8 250.0,122.1 252.0,120.4 254.0,118.8 256.1,117.1 258.1,115.4 260.1,113.7 262.1,112.0 264.1,110.3 266.1,108.5 268.1,106.7 270.2,104.9 272.2,103.0 274.2,101.1 276.2,99.1 278.2,97.1 280.2,95.0 282.3,92.9 284.3,90.8 286.3,88.6 288.3,86.5 290.3,84.3 292.3,82.1 294.4,80.0 296.4,77.8 298.4,75.7 300.4,73.7 302.4,71.7 304.4,69.7 306.5,67.8 308.5,66.0 310.5,64.3 312.5,62.6" fill="none" stroke="#1c1cff" stroke-width="1.15" stroke-linejoin="round" stroke-linecap="square"/>
<polyline points="135.1,287.2 137.1,285.0 139.1,282.7 141.1,280.1 143.1,277.4 145.2,274.6 147.2,271.6 149.2,268.5 151.2,265.3 153.2,262.0 155.2,258.6 157.2,255.2 159.2,251.7 161.3,248.1 163.3,244.6 165.3,241.0 167.3,237.4 169.3,233.8 171.3,230.2 173.3,226.7 175.3,223.2 177.3,219.8 179.4,216.4 181.4,213.1 183.4,209.8 185.4,206.7 187.4,203.6 189.4,200.7 191.4,197.8 193.4,195.0 195.4,192.3 197.5,189.7 199.5,187.2 201.5,184.8 203.5,182.4 205.5,180.1 207.5,177.8 209.5,175.6 211.5,173.5 213.6,171.4 215.6,169.3 217.6,167.3 219.6,165.4 221.6,163.4 223.6,161.5 225.6,159.6 227.6,157.7 229.6,155.8 231.7,153.9 233.7,152.0 235.7,150.1 237.7,148.2 239.7,146.3 241.7,144.4 243.7,142.5 245.7,140.6 247.7,138.6 249.8,136.7 251.8,134.7 253.8,132.8 255.8,130.8 257.8,128.8 259.8,126.8 261.8,124.8 263.8,122.8 265.9,120.8 267.9,118.8 269.9,116.8 271.9,114.7 273.9,112.7 275.9,110.7 277.9,108.6 279.9,106.6 281.9,104.6 284.0,102.5 286.0,100.4 288.0,98.4 290.0,96.3 292.0,94.3 294.0,92.2 296.0,90.2 298.0,88.1 300.0,86.0 302.1,84.0 304.1,81.9 306.1,79.8 308.1,77.8 310.1,75.7 312.1,73.7 314.1,71.6 316.1,69.5 318.2,67.5 320.2,65.4 322.2,63.4 324.2,61.3 326.2,59.3" fill="none" stroke="#1c1cff" stroke-width="1.15" stroke-linejoin="round" stroke-linecap="square"/>
</g>
<g opacity="0.7"><polyline points="135.1,279.1 137.1,275.9 139.1,272.6 141.2,269.3 143.2,265.9 145.2,262.5 147.2,259.1 149.2,255.6 151.2,252.1 153.3,248.5 155.3,244.9 157.3,241.4 159.3,237.8 161.3,234.1 163.4,230.5 165.4,226.9 167.4,223.3 169.4,219.7 171.4,216.1 173.5,212.6 175.5,209.0 177.5,205.5 179.5,202.0 181.5,198.6 183.5,195.2 185.6,191.8 187.6,188.5 189.6,185.2 191.6,182.0 193.6,178.8 195.7,175.7 197.7,172.6 199.7,169.6 201.7,166.7 203.7,163.8 205.7,161.0 207.8,158.2 209.8,155.5 211.8,152.9 213.8,150.4 215.8,147.9 217.9,145.5 219.9,143.2 221.9,141.0 223.9,138.8 225.9,136.8 228.0,134.8 230.0,132.8 232.0,131.0 234.0,129.1 236.0,127.3 238.0,125.6 240.1,123.8 242.1,122.1 244.1,120.3 246.1,118.6 248.1,116.8 250.2,115.0 252.2,113.2 254.2,111.3 256.2,109.4 258.2,107.4 260.2,105.4 262.3,103.2 264.3,101.0 266.3,98.7 268.3,96.2 270.3,93.7 272.4,91.0 274.4,88.2 276.4,85.2 278.4,82.2 280.4,79.2 282.5,76.1 284.5,73.1 286.5,70.2 288.5,67.4 290.5,64.7 292.5,62.2 294.6,59.9 296.6,57.8 298.6,56.1" fill="none" stroke="#1c1cff" stroke-width="1.15" stroke-linejoin="round" stroke-linecap="square"/>
<polyline points="135.1,285.3 137.1,282.7 139.1,279.9 141.1,277.1 143.2,274.2 145.2,271.2 147.2,268.2 149.2,265.0 151.2,261.8 153.2,258.6 155.3,255.3 157.3,251.9 159.3,248.5 161.3,245.1 163.3,241.6 165.3,238.1 167.4,234.5 169.4,231.0 171.4,227.4 173.4,223.9 175.4,220.3 177.4,216.7 179.4,213.1 181.5,209.6 183.5,206.0 185.5,202.5 187.5,199.0 189.5,195.6 191.5,192.1 193.6,188.7 195.6,185.4 197.6,182.1 199.6,178.9 201.6,175.7 203.6,172.6 205.7,169.6 207.7,166.7 209.7,163.8 211.7,161.0 213.7,158.4 215.7,155.8 217.8,153.3 219.8,150.9 221.8,148.6 223.8,146.3 225.8,144.2 227.8,142.1 229.8,140.0 231.9,138.1 233.9,136.1 235.9,134.3 237.9,132.5 239.9,130.7 241.9,128.9 244.0,127.2 246.0,125.5 248.0,123.8 250.0,122.1 252.0,120.4 254.0,118.8 256.1,117.1 258.1,115.4 260.1,113.7 262.1,112.0 264.1,110.3 266.1,108.5 268.1,106.7 270.2,104.9 272.2,103.0 274.2,101.1 276.2,99.1 278.2,97.1 280.2,95.0 282.3,92.9 284.3,90.8 286.3,88.6 288.3,86.5 290.3,84.3 292.3,82.1 294.4,80.0 296.4,77.8 298.4,75.7 300.4,73.7 302.4,71.7 304.4,69.7 306.5,67.8 308.5,66.0 310.5,64.3 312.5,62.6" fill="none" stroke="#1c1cff" stroke-width="1.15" stroke-linejoin="round" stroke-linecap="square"/>
<polyline points="135.1,287.2 137.1,285.0 139.1,282.7 141.1,280.1 143.1,277.4 145.2,274.6 147.2,271.6 149.2,268.5 151.2,265.3 153.2,262.0 155.2,258.6 157.2,255.2 159.2,251.7 161.3,248.1 163.3,244.6 165.3,241.0 167.3,237.4 169.3,233.8 171.3,230.2 173.3,226.7 175.3,223.2 177.3,219.8 179.4,216.4 181.4,213.1 183.4,209.8 185.4,206.7 187.4,203.6 189.4,200.7 191.4,197.8 193.4,195.0 195.4,192.3 197.5,189.7 199.5,187.2 201.5,184.8 203.5,182.4 205.5,180.1 207.5,177.8 209.5,175.6 211.5,173.5 213.6,171.4 215.6,169.3 217.6,167.3 219.6,165.4 221.6,163.4 223.6,161.5 225.6,159.6 227.6,157.7 229.6,155.8 231.7,153.9 233.7,152.0 235.7,150.1 237.7,148.2 239.7,146.3 241.7,144.4 243.7,142.5 245.7,140.6 247.7,138.6 249.8,136.7 251.8,134.7 253.8,132.8 255.8,130.8 257.8,128.8 259.8,126.8 261.8,124.8 263.8,122.8 265.9,120.8 267.9,118.8 269.9,116.8 271.9,114.7 273.9,112.7 275.9,110.7 277.9,108.6 279.9,106.6 281.9,104.6 284.0,102.5 286.0,100.4 288.0,98.4 290.0,96.3 292.0,94.3 294.0,92.2 296.0,90.2 298.0,88.1 300.0,86.0 302.1,84.0 304.1,81.9 306.1,79.8 308.1,77.8 310.1,75.7 312.1,73.7 314.1,71.6 316.1,69.5 318.2,67.5 320.2,65.4 322.2,63.4 324.2,61.3 326.2,59.3" fill="none" stroke="#1c1cff" stroke-width="1.15" stroke-linejoin="round" stroke-linecap="square"/>
</g>
<rect x="80.6" y="37.25" width="272.79999999999995" height="255.64999999999998" fill="none" stroke="#000" stroke-width="1"/>
<line x1="80.6" y1="292.9" x2="80.6" y2="288.9" stroke="#000" stroke-width="0.8"/><line x1="80.6" y1="37.25" x2="80.6" y2="41.25" stroke="#000" stroke-width="0.8"/><text x="80.6" y="306.3" font-size="11" text-anchor="middle">0</text>
<line x1="135.2" y1="292.9" x2="135.2" y2="288.9" stroke="#000" stroke-width="0.8"/><line x1="135.2" y1="37.25" x2="135.2" y2="41.25" stroke="#000" stroke-width="0.8"/><text x="135.2" y="306.3" font-size="11" text-anchor="middle">1</text>
<line x1="189.7" y1="292.9" x2="189.7" y2="288.9" stroke="#000" stroke-width="0.8"/><line x1="189.7" y1="37.25" x2="189.7" y2="41.25" stroke="#000" stroke-width="0.8"/><text x="189.7" y="306.3" font-size="11" text-anchor="middle">2</text>
<line x1="244.3" y1="292.9" x2="244.3" y2="288.9" stroke="#000" stroke-width="0.8"/><line x1="244.3" y1="37.25" x2="244.3" y2="41.25" stroke="#000" stroke-width="0.8"/><text x="244.3" y="306.3" font-size="11" text-anchor="middle">3</text>
<line x1="298.8" y1="292.9" x2="298.8" y2="288.9" stroke="#000" stroke-width="0.8"/><line x1="298.8" y1="37.25" x2="298.8" y2="41.25" stroke="#000" stroke-width="0.8"/><text x="298.8" y="306.3" font-size="11" text-anchor="middle">4</text>
<line x1="353.4" y1="292.9" x2="353.4" y2="288.9" stroke="#000" stroke-width="0.8"/><line x1="353.4" y1="37.25" x2="353.4" y2="41.25" stroke="#000" stroke-width="0.8"/><text x="353.4" y="306.3" font-size="11" text-anchor="middle">5</text>
<line x1="80.6" y1="292.9" x2="84.6" y2="292.9" stroke="#000" stroke-width="0.8"/><line x1="353.4" y1="292.9" x2="349.4" y2="292.9" stroke="#000" stroke-width="0.8"/><text x="76.5" y="296.9" font-size="11" text-anchor="end">1990</text>
<line x1="80.6" y1="260.9" x2="84.6" y2="260.9" stroke="#000" stroke-width="0.8"/><line x1="353.4" y1="260.9" x2="349.4" y2="260.9" stroke="#000" stroke-width="0.8"/><text x="76.5" y="264.9" font-size="11" text-anchor="end">2000</text>
<line x1="80.6" y1="229.0" x2="84.6" y2="229.0" stroke="#000" stroke-width="0.8"/><line x1="353.4" y1="229.0" x2="349.4" y2="229.0" stroke="#000" stroke-width="0.8"/><text x="76.5" y="233.0" font-size="11" text-anchor="end">2010</text>
<line x1="80.6" y1="197.0" x2="84.6" y2="197.0" stroke="#000" stroke-width="0.8"/><line x1="353.4" y1="197.0" x2="349.4" y2="197.0" stroke="#000" stroke-width="0.8"/><text x="76.5" y="201.0" font-size="11" text-anchor="end">2020</text>
<line x1="80.6" y1="165.1" x2="84.6" y2="165.1" stroke="#000" stroke-width="0.8"/><line x1="353.4" y1="165.1" x2="349.4" y2="165.1" stroke="#000" stroke-width="0.8"/><text x="76.5" y="169.1" font-size="11" text-anchor="end">2030</text>
<line x1="80.6" y1="133.1" x2="84.6" y2="133.1" stroke="#000" stroke-width="0.8"/><line x1="353.4" y1="133.1" x2="349.4" y2="133.1" stroke="#000" stroke-width="0.8"/><text x="76.5" y="137.1" font-size="11" text-anchor="end">2040</text>
<line x1="80.6" y1="101.2" x2="84.6" y2="101.2" stroke="#000" stroke-width="0.8"/><line x1="353.4" y1="101.2" x2="349.4" y2="101.2" stroke="#000" stroke-width="0.8"/><text x="76.5" y="105.2" font-size="11" text-anchor="end">2050</text>
<line x1="80.6" y1="69.2" x2="84.6" y2="69.2" stroke="#000" stroke-width="0.8"/><line x1="353.4" y1="69.2" x2="349.4" y2="69.2" stroke="#000" stroke-width="0.8"/><text x="76.5" y="73.2" font-size="11" text-anchor="end">2060</text>
<line x1="80.6" y1="37.2" x2="84.6" y2="37.2" stroke="#000" stroke-width="0.8"/><line x1="353.4" y1="37.2" x2="349.4" y2="37.2" stroke="#000" stroke-width="0.8"/><text x="76.5" y="41.2" font-size="11" text-anchor="end">2070</text>

<text x="107.5" y="11.2" font-size="13">RCP8.5 forcing</text>
<text x="106.5" y="62.3" font-size="12.8" fill="#ff0000">HadGEM3</text>
<text x="106.5" y="88" font-size="12.8" fill="#0000ff">CMIP5</text>
<text x="139.8" y="319.3" font-size="7.6" font-style="italic">o</text><text x="148.1" y="324.8" font-size="13">C above pre-industrial</text>
<g transform="rotate(-90)">
<text x="-233.5" y="12" font-size="13">First year increase in</text>
<text x="-253.5" y="27" font-size="13">30-year mean temperature</text>
<text x="-222.5" y="41" font-size="13">exceeds threshold</text>
</g>
</svg>
</body></html>
